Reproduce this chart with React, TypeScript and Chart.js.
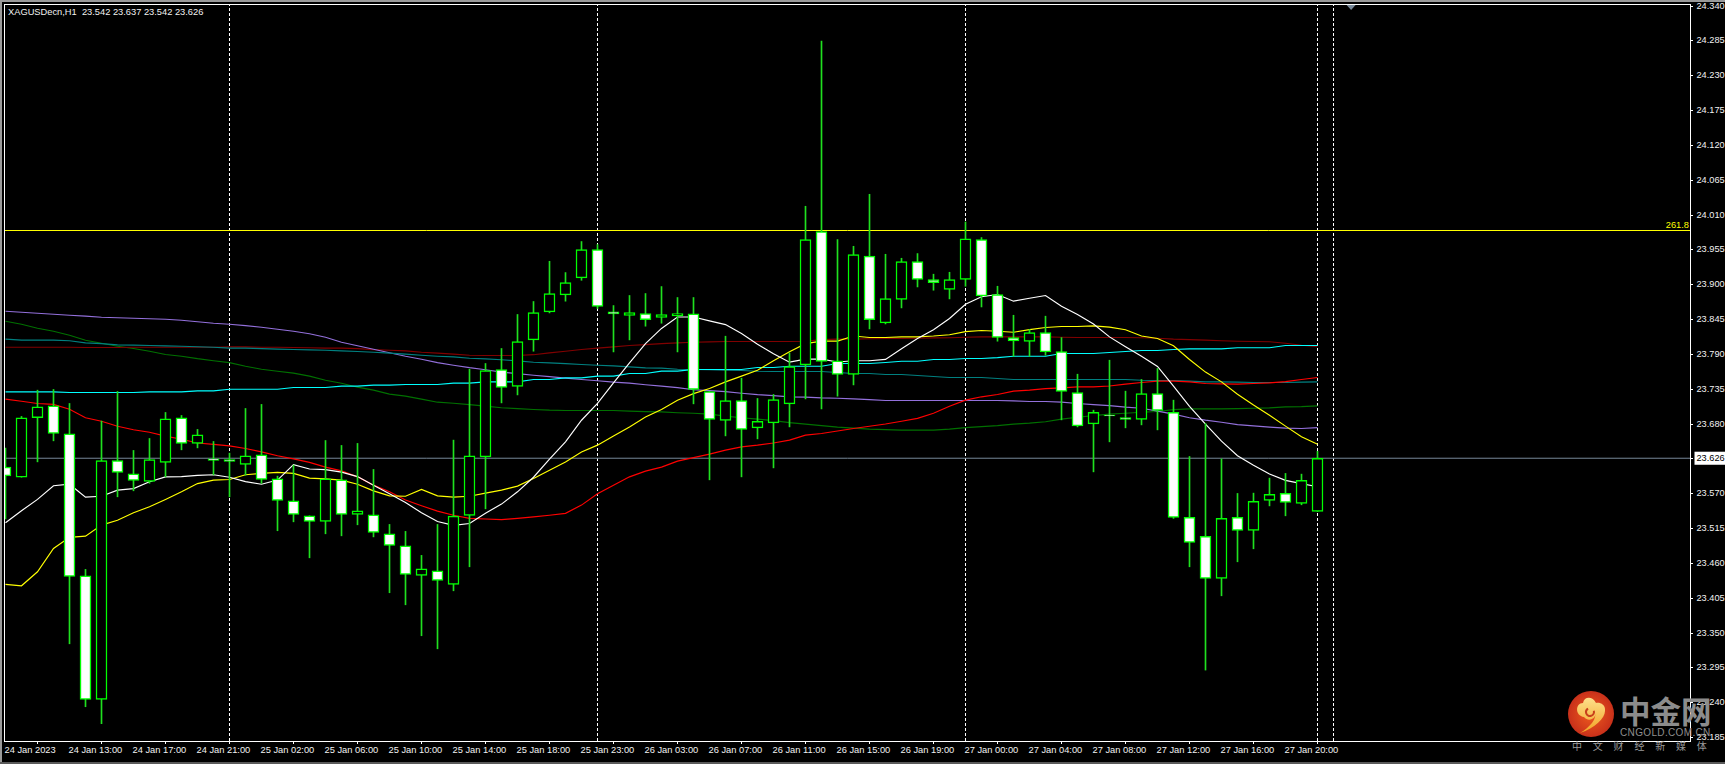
import React, { useEffect, useRef } from "react";
import { Chart, registerables } from "chart.js";

Chart.register(...registerables);

const titleText = "XAGUSDecn,H1  23.542 23.637 23.542 23.626";

const opens = [
  23.612, 23.596, 23.69, 23.7087, 23.6645, 23.4405, 23.2453, 23.6225, 23.6014, 23.5895,
  23.6194, 23.6898, 23.6494, 23.625, 23.624, 23.6164, 23.6314, 23.5935, 23.5588, 23.5351,
  23.5262, 23.592, 23.5373, 23.5367, 23.5067, 23.4877, 23.441, 23.4483, 23.4268, 23.5357,
  23.6282, 23.7661, 23.7393, 23.8129, 23.857, 23.8839, 23.9107, 23.9555, 23.857, 23.8514,
  23.8545, 23.8482, 23.8507, 23.8539, 23.7314, 23.6857, 23.7172, 23.674, 23.6819, 23.7119,
  23.7734, 23.984, 23.7797, 23.7582, 23.9454, 23.8397, 23.8766, 23.9366, 23.9082, 23.8924,
  23.9082, 23.9713, 23.8845, 23.8166, 23.8103, 23.8245, 23.7945, 23.7298, 23.6803, 23.694,
  23.6904, 23.6872, 23.7282, 23.6983, 23.5326, 23.5026, 23.4363, 23.5326, 23.512, 23.5594,
  23.5704, 23.5546, 23.542,
];
const highs = [
  23.642, 23.692, 23.7335, 23.7346, 23.7125, 23.4505, 23.6845, 23.7314, 23.6383, 23.6572,
  23.6983, 23.6935, 23.6715, 23.6525, 23.634, 23.7046, 23.711, 23.5977, 23.6151, 23.5351,
  23.654, 23.6462, 23.6494, 23.6083, 23.5215, 23.5105, 23.4726, 23.5215, 23.6546, 23.7666,
  23.7756, 23.7993, 23.853, 23.8735, 23.937, 23.9192, 23.9682, 23.9634, 23.8671, 23.883,
  23.8861, 23.8971, 23.8798, 23.8798, 23.7314, 23.8187, 23.7524, 23.7204, 23.7267, 23.7923,
  24.0239, 24.2848, 23.9713, 23.9607, 24.0428, 23.9481, 23.9418, 23.9492, 23.9166, 23.9197,
  23.9991, 23.9745, 23.8976, 23.8518, 23.8293, 23.8503, 23.8166, 23.7587, 23.7019, 23.7808,
  23.7319, 23.7504, 23.7677, 23.7177, 23.6288, 23.6809, 23.625, 23.5704, 23.5709, 23.5946,
  23.602, 23.6009, 23.637,
];
const lows = [
  23.53, 23.596, 23.6203, 23.6535, 23.333, 23.2336, 23.2068, 23.5651, 23.5746, 23.5864,
  23.5966, 23.6393, 23.6424, 23.5998, 23.5651, 23.5993, 23.5864, 23.5115, 23.5256, 23.4688,
  23.5067, 23.5035, 23.5209, 23.5018, 23.4136, 23.3946, 23.3457, 23.3251, 23.4167, 23.4546,
  23.5461, 23.7134, 23.726, 23.795, 23.8555, 23.874, 23.907, 23.8624, 23.7939, 23.8129,
  23.8345, 23.8392, 23.7939, 23.7119, 23.5919, 23.6613, 23.5966, 23.6566, 23.6108, 23.6755,
  23.7197, 23.704, 23.724, 23.7418, 23.8302, 23.8381, 23.8634, 23.8965, 23.8913, 23.8776,
  23.8976, 23.8649, 23.8108, 23.7871, 23.7871, 23.7887, 23.6866, 23.6755, 23.6045, 23.6519,
  23.674, 23.6787, 23.6708, 23.531, 23.4546, 23.2915, 23.4088, 23.4625, 23.483, 23.5508,
  23.5351, 23.5525, 23.542,
];
const closes = [
  23.598, 23.69, 23.707, 23.665, 23.4395, 23.2453, 23.6225, 23.6036, 23.591, 23.624,
  23.6882, 23.6494, 23.663, 23.6225, 23.6209, 23.63, 23.5925, 23.5594, 23.5373, 23.5262,
  23.5935, 23.5373, 23.543, 23.5089, 23.4883, 23.4426, 23.4515, 23.4331, 23.5346, 23.6298,
  23.7646, 23.7377, 23.8103, 23.8561, 23.8861, 23.9034, 23.9555, 23.8656, 23.8539, 23.8561,
  23.845, 23.853, 23.8545, 23.7346, 23.6872, 23.7172, 23.6715, 23.6841, 23.7188, 23.7709,
  23.9713, 23.7788, 23.7582, 23.9476, 23.845, 23.8782, 23.9366, 23.9082, 23.9034, 23.9082,
  23.9723, 23.8823, 23.8166, 23.8113, 23.8245, 23.7939, 23.7314, 23.6771, 23.6983, 23.693,
  23.6872, 23.7282, 23.7014, 23.5326, 23.4931, 23.4363, 23.531, 23.512, 23.5578, 23.5689,
  23.5562, 23.591, 23.626,
];

const maWhite = [
  23.524, 23.543, 23.561, 23.5825, 23.585, 23.5646, 23.566, 23.5757, 23.578, 23.589,
  23.5966, 23.597, 23.599, 23.6, 23.596, 23.589, 23.585, 23.5915, 23.616, 23.609,
  23.608, 23.604, 23.597, 23.5835, 23.57, 23.556, 23.54, 23.526, 23.52, 23.523,
  23.539, 23.5536, 23.573, 23.596, 23.6246, 23.652, 23.686, 23.7125, 23.745, 23.7766,
  23.807, 23.831, 23.849, 23.849, 23.843, 23.837, 23.823, 23.806, 23.791, 23.7777,
  23.7824, 23.7824, 23.778, 23.78, 23.78, 23.782, 23.799, 23.815, 23.829, 23.8466,
  23.869, 23.881, 23.8845, 23.874, 23.8787, 23.883, 23.866, 23.853, 23.838, 23.8176,
  23.802, 23.787, 23.771, 23.74, 23.708, 23.68, 23.653, 23.63, 23.615, 23.601,
  23.591, 23.586, 23.581,
];
const maYellow = [
  23.4268, 23.4246, 23.4467, 23.4836, 23.501, 23.503, 23.5204, 23.528, 23.54, 23.5493,
  23.561, 23.573, 23.586, 23.5915, 23.5925, 23.6, 23.602, 23.6036, 23.602, 23.5946,
  23.5935, 23.5915, 23.585, 23.5745, 23.5666, 23.566, 23.5767, 23.5666, 23.5646, 23.566,
  23.571, 23.5757, 23.582, 23.594, 23.607, 23.62, 23.636, 23.6467, 23.661, 23.6755,
  23.691, 23.703, 23.7177, 23.728, 23.736, 23.7466, 23.7556, 23.765, 23.78, 23.794,
  23.807, 23.811, 23.811, 23.819, 23.8166, 23.8166, 23.8176, 23.8176, 23.819, 23.821,
  23.826, 23.8277, 23.8266, 23.825, 23.829, 23.8324, 23.834, 23.834, 23.835, 23.833,
  23.829, 23.819, 23.815, 23.8037, 23.782, 23.762, 23.7466, 23.727, 23.71, 23.694,
  23.6767, 23.66, 23.648,
];
const maRed = [
  23.7193, 23.716, 23.7125, 23.711, 23.7035, 23.69, 23.6845, 23.6766, 23.671, 23.667,
  23.661, 23.656, 23.65, 23.648, 23.6455, 23.6414, 23.636, 23.63, 23.625, 23.6194,
  23.612, 23.606, 23.5966, 23.5835, 23.573, 23.56, 23.551, 23.5425, 23.536, 23.531,
  23.53, 23.529, 23.531, 23.5335, 23.536, 23.539, 23.552, 23.57, 23.5835, 23.5966,
  23.6056, 23.612, 23.6214, 23.627, 23.6325, 23.6388, 23.644, 23.6467, 23.65, 23.6546,
  23.6624, 23.665, 23.669, 23.673, 23.6766, 23.68, 23.6845, 23.689, 23.697, 23.708,
  23.7177, 23.723, 23.7267, 23.732, 23.7335, 23.736, 23.737, 23.7387, 23.7387, 23.74,
  23.743, 23.7456, 23.7477, 23.7477, 23.7466, 23.744, 23.7434, 23.743, 23.744, 23.745,
  23.747, 23.7504, 23.7535,
];
const maDarkRed = [
  23.8013, 23.8013, 23.8013, 23.8013, 23.8013, 23.8009, 23.8009, 23.8009, 23.8013, 23.8013,
  23.8013, 23.8013, 23.8013, 23.8013, 23.8018, 23.8018, 23.8013, 23.8013, 23.8009, 23.8005,
  23.7998, 23.7998, 23.799, 23.7974, 23.7966, 23.7955, 23.7934, 23.7919, 23.7903, 23.7887,
  23.7882, 23.7882, 23.7882, 23.7895, 23.7923, 23.795, 23.7977, 23.7998, 23.8018, 23.804,
  23.8053, 23.8069, 23.8081, 23.8092, 23.8097, 23.8103, 23.8103, 23.8103, 23.8103, 23.8103,
  23.8108, 23.8132, 23.814, 23.814, 23.8147, 23.815, 23.815, 23.8155, 23.816, 23.8163,
  23.8171, 23.8176, 23.8176, 23.8176, 23.8176, 23.8176, 23.8171, 23.8166, 23.8166, 23.8166,
  23.8166, 23.8163, 23.8155, 23.814, 23.8132, 23.8124, 23.8116, 23.8108, 23.8103, 23.81,
  23.8076, 23.8045, 23.8021,
];
const maCyan = [
  23.7308, 23.7308, 23.7308, 23.7308, 23.7298, 23.7298, 23.7298, 23.7298, 23.7298, 23.7308,
  23.7308, 23.7308, 23.7323, 23.7323, 23.735, 23.735, 23.735, 23.735, 23.7377, 23.7377,
  23.7377, 23.7398, 23.7398, 23.7414, 23.7414, 23.7425, 23.7425, 23.7425, 23.7445, 23.7445,
  23.7466, 23.7466, 23.7466, 23.7504, 23.7504, 23.7529, 23.7529, 23.7556, 23.7556, 23.7598,
  23.7598, 23.7635, 23.7635, 23.7661, 23.7661, 23.7661, 23.7661, 23.7693, 23.7693, 23.7713,
  23.7713, 23.7713, 23.7756, 23.7756, 23.7756, 23.7772, 23.7792, 23.7792, 23.7819, 23.7819,
  23.7835, 23.7835, 23.7848, 23.7871, 23.7871, 23.7871, 23.7914, 23.7914, 23.7914, 23.7929,
  23.7945, 23.7961, 23.7961, 23.7977, 23.7986, 23.7986, 23.7986, 23.8005, 23.8005, 23.8005,
  23.804, 23.804, 23.804,
];
const maTeal = [
  23.814, 23.8124, 23.8124, 23.8124, 23.8116, 23.8081, 23.8069, 23.805, 23.8045, 23.804,
  23.8034, 23.8029, 23.8021, 23.8013, 23.7998, 23.7998, 23.799, 23.7982, 23.7977, 23.7971,
  23.7966, 23.7955, 23.7945, 23.7934, 23.7919, 23.7903, 23.7887, 23.7871, 23.786, 23.7839,
  23.7829, 23.7816, 23.7797, 23.7776, 23.7765, 23.7753, 23.774, 23.7729, 23.7718, 23.7702,
  23.7686, 23.7682, 23.7666, 23.7661, 23.7658, 23.765, 23.7645, 23.7634, 23.7629, 23.7629,
  23.7629, 23.7629, 23.7614, 23.7598, 23.7598, 23.7582, 23.7582, 23.7566, 23.755, 23.7535,
  23.7535, 23.7535, 23.7519, 23.7503, 23.7503, 23.7503, 23.7503, 23.7503, 23.7503, 23.7503,
  23.7503, 23.7492, 23.7488, 23.7488, 23.7477, 23.7466, 23.7466, 23.7461, 23.7456, 23.7456,
  23.7456, 23.7461, 23.7466,
];
const maPurple = [
  23.8581, 23.8566, 23.855, 23.8534, 23.8518, 23.8503, 23.8487, 23.8479, 23.8471, 23.8463,
  23.8455, 23.8439, 23.8416, 23.8392, 23.8376, 23.8353, 23.8329, 23.8297, 23.8266, 23.8226,
  23.8171, 23.8092, 23.8037, 23.7982, 23.7926, 23.7871, 23.7824, 23.7769, 23.7729, 23.769,
  23.7658, 23.7619, 23.7595, 23.7571, 23.7548, 23.7524, 23.7503, 23.7484, 23.7461, 23.7445,
  23.7421, 23.7398, 23.7374, 23.7342, 23.7327, 23.7311, 23.7287, 23.7264, 23.7248, 23.7229,
  23.7224, 23.7213, 23.7208, 23.7197, 23.7185, 23.7172, 23.7172, 23.7172, 23.7172, 23.7172,
  23.7172, 23.7172, 23.7172, 23.7166, 23.7156, 23.7156, 23.7145, 23.7125, 23.7106, 23.709,
  23.7066, 23.705, 23.7003, 23.6956, 23.69, 23.6861, 23.6829, 23.679, 23.6771, 23.6751,
  23.6735, 23.673, 23.6743,
];
const maGreen = [
  23.8424, 23.8376, 23.8313, 23.8266, 23.8203, 23.8124, 23.8076, 23.8029, 23.7993, 23.795,
  23.7898, 23.7871, 23.7832, 23.78, 23.7769, 23.7713, 23.7666, 23.7634, 23.7603, 23.7556,
  23.7492, 23.7445, 23.7382, 23.7335, 23.7272, 23.724, 23.7193, 23.7145, 23.7129, 23.7106,
  23.7082, 23.7058, 23.7043, 23.703, 23.7019, 23.7014, 23.7014, 23.7014, 23.7014, 23.7003,
  23.6995, 23.6992, 23.6979, 23.6971, 23.6956, 23.6924, 23.69, 23.6877, 23.6853, 23.6822,
  23.6798, 23.6774, 23.6751, 23.6735, 23.6719, 23.6711, 23.6703, 23.6703, 23.6703, 23.6719,
  23.6743, 23.6759, 23.6774, 23.6798, 23.6814, 23.6837, 23.6877, 23.6908, 23.6932, 23.6956,
  23.6971, 23.6987, 23.6998, 23.7027, 23.7039, 23.7039, 23.7039, 23.7043, 23.705, 23.7055,
  23.7071, 23.7074, 23.7087,
];

const currentPrice = 23.626;
const fibLevel = 23.9856;
const fibLabel = "261.8";
const separators = [14, 37, 60, 82, 83];
const shiftMarker = 84.1;

const priceTicks = [
  24.34, 24.285, 24.23, 24.175, 24.12, 24.065, 24.01, 23.955, 23.9, 23.845, 23.79,
  23.735, 23.68, 23.57, 23.515, 23.46, 23.405, 23.35, 23.295, 23.24, 23.185,
];
const timeTickIndex = [0, 4, 8, 12, 16, 20, 24, 28, 32, 36, 40, 44, 48, 52, 56, 60, 64, 68, 72, 76, 80];
const timeTickLabels = [
  "24 Jan 2023", "24 Jan 13:00", "24 Jan 17:00", "24 Jan 21:00", "25 Jan 02:00", "25 Jan 06:00",
  "25 Jan 10:00", "25 Jan 14:00", "25 Jan 18:00", "25 Jan 23:00", "26 Jan 03:00", "26 Jan 07:00",
  "26 Jan 11:00", "26 Jan 15:00", "26 Jan 19:00", "27 Jan 00:00", "27 Jan 04:00", "27 Jan 08:00",
  "27 Jan 12:00", "27 Jan 16:00", "27 Jan 20:00",
];

const FONT = '"Liberation Sans", Arial, sans-serif';
const Y_MAX = 24.3417;
const Y_MIN = 23.1795;
const X_MIN = -0.03125;
const X_MAX = 105.28125;

const toPoints = (vals: number[]) => vals.map((y, x) => ({ x, y }));

const line = (values: number[], color: string) => ({
  type: "line" as const,
  data: toPoints(values),
  borderColor: color,
  borderWidth: 1.15,
  pointRadius: 0,
  tension: 0,
  fill: false,
});

const clearPadding = (s: any) => {
  s.paddingTop = 0;
  s.paddingBottom = 0;
  s.paddingLeft = 0;
  s.paddingRight = 0;
};

const chrome = {
  id: "chrome",
  beforeDraw(chart: any) {
    const { ctx, width, height } = chart;
    ctx.save();
    ctx.fillStyle = "#000";
    ctx.fillRect(0, 0, width, height);
    ctx.fillStyle = "#9a9a9a";
    ctx.fillRect(0, 0, width, 2);
    ctx.fillRect(0, 0, 2, height);
    ctx.fillStyle = "#5a5a5a";
    ctx.fillRect(0, height - 2, width, 2);
    ctx.restore();
  },
  afterDatasetsDraw(chart: any) {
    const { ctx, chartArea: a, scales } = chart;
    ctx.save();
    ctx.strokeStyle = "#fff";
    ctx.lineWidth = 1;
    ctx.strokeRect(a.left - 0.5, a.top - 0.5, a.right - a.left + 1, a.bottom - a.top + 1);
    ctx.fillStyle = "#ffff00";
    ctx.font = `9.3px ${FONT}`;
    ctx.textAlign = "right";
    ctx.textBaseline = "alphabetic";
    ctx.fillText(fibLabel, a.right - 1, scales.y.getPixelForValue(fibLevel) - 3);
    const tx = scales.x.getPixelForValue(shiftMarker);
    ctx.fillStyle = "#778899";
    ctx.beginPath();
    ctx.moveTo(tx - 4.5, a.top);
    ctx.lineTo(tx + 4.5, a.top);
    ctx.lineTo(tx, a.top + 5);
    ctx.closePath();
    ctx.fill();
    ctx.fillStyle = "#f2f2f2";
    ctx.font = `9.3px ${FONT}`;
    ctx.textAlign = "left";
    ctx.textBaseline = "middle";
    ctx.fillText(titleText, a.left + 3, 12.5);
    ctx.restore();
  },
  afterDraw(chart: any) {
    const { ctx } = chart;
    const cx = 1591;
    const cy = 714;
    ctx.save();
    const g = ctx.createRadialGradient(cx, cy, 4, cx, cy, 23);
    g.addColorStop(0, "#e8541e");
    g.addColorStop(1, "#c8301a");
    ctx.fillStyle = g;
    ctx.beginPath();
    ctx.arc(cx, cy, 23, 0, Math.PI * 2);
    ctx.fill();
    const y = ctx.createLinearGradient(0, cy - 16, 0, cy + 20);
    y.addColorStop(0, "#fde08a");
    y.addColorStop(1, "#f2a020");
    ctx.fillStyle = y;
    ctx.beginPath();
    ctx.moveTo(cx - 11, cy + 19);
    ctx.bezierCurveTo(cx + 4, cy + 14, cx + 14, cy + 4, cx + 14, cy - 3);
    ctx.bezierCurveTo(cx + 15, cy - 10, cx + 8, cy - 12, cx + 5, cy - 11);
    ctx.bezierCurveTo(cx + 2, cy - 18, cx - 7, cy - 18, cx - 8, cy - 11);
    ctx.bezierCurveTo(cx - 16, cy - 11, cx - 16, cy + 2, cx - 7, cy + 3);
    ctx.bezierCurveTo(cx - 2, cy + 9, cx + 6, cy + 4, cx + 4, cy - 2);
    ctx.bezierCurveTo(cx + 6, cy + 5, cx - 1, cy + 13, cx - 11, cy + 19);
    ctx.fill();
    ctx.strokeStyle = "#c8401c";
    ctx.lineWidth = 2;
    ctx.beginPath();
    ctx.arc(cx - 1, cy - 2, 4, -0.3, 4.2);
    ctx.stroke();

    ctx.fillStyle = "#8c8c8c";
    ctx.textAlign = "left";
    ctx.textBaseline = "alphabetic";
    ctx.font = `bold 30.5px "Noto Sans CJK SC", sans-serif`;
    ctx.fillText("中金网", 1620, 723);
    ctx.font = `10px ${FONT}`;
    (ctx as any).letterSpacing = "0.35px";
    ctx.fillStyle = "#8f8f8f";
    ctx.fillText("CNGOLD.COM.CN", 1620, 736);
    ctx.font = `10px "Noto Sans CJK SC", sans-serif`;
    (ctx as any).letterSpacing = "10.8px";
    ctx.fillStyle = "#9a9a9a";
    ctx.fillText("中文财经新媒体", 1572, 750);
    ctx.restore();
  },
};

export default function App() {
  const ref = useRef<HTMLCanvasElement | null>(null);

  useEffect(() => {
    if (!ref.current) return;
    ref.current.getContext("2d", { alpha: false });
    const bodies = {
      type: "bar" as const,
      data: opens.map((o, x) => ({ x, y: [o, closes[x]] })),
      backgroundColor: opens.map((o, i) => (closes[i] >= o ? "#000000" : "#ffffff")),
      borderColor: "#00ff00",
      borderWidth: 1.5,
      borderSkipped: false,
      barThickness: 11,
      grouped: false,
    };
    const wicks = {
      type: "bar" as const,
      data: lows.map((l, x) => ({ x, y: [l, highs[x]] })),
      backgroundColor: "#1fe01f",
      borderWidth: 0,
      barThickness: 1,
      grouped: false,
    };
    const level = (value: number, color: string) => ({
      type: "line" as const,
      data: [
        { x: X_MIN, y: value },
        { x: X_MAX, y: value },
      ],
      borderColor: color,
      borderWidth: 1,
      pointRadius: 0,
    });
    const verticals = separators.map((x) => ({
      type: "line" as const,
      data: [
        { x, y: Y_MIN },
        { x, y: Y_MAX },
      ],
      borderColor: "#ffffff",
      borderWidth: 1,
      borderDash: [3, 2],
      pointRadius: 0,
    }));

    const chart = new Chart(ref.current, {
      type: "bar",
      data: {
        datasets: [
          bodies,
          wicks,
          line(maWhite, "#ffffff"),
          line(maYellow, "#ffff00"),
          line(maRed, "#ff0000"),
          line(maCyan, "#00ffff"),
          line(maTeal, "#008080"),
          line(maPurple, "#9370db"),
          line(maDarkRed, "#800000"),
          line(maGreen, "#007000"),
          level(fibLevel, "#ffff00"),
          level(currentPrice, "#778899"),
          ...verticals,
        ] as any,
      },
      options: {
        responsive: false,
        animation: false,
        devicePixelRatio: 1,
        layout: { autoPadding: false, padding: { left: 5, top: 5, right: 0, bottom: 0 } },
        plugins: { legend: { display: false }, tooltip: { enabled: false } },
        events: [],
        scales: {
          x: {
            type: "linear",
            offset: false,
            min: X_MIN,
            max: X_MAX,
            afterBuildTicks: (s: any) => {
              s.ticks = timeTickIndex.map((value) => ({ value }));
            },
            afterFit: (s: any) => {
              s.height = 23;
              clearPadding(s);
            },
            border: { display: false },
            grid: { display: true, drawOnChartArea: false, drawTicks: true, tickLength: 3, tickColor: "#ffffff" },
            ticks: {
              autoSkip: false,
              maxRotation: 0,
              minRotation: 0,
              align: "start",
              padding: 1,
              labelOffset: -1,
              color: "#f2f2f2",
              font: { family: FONT, size: 9.3 },
              callback: (_v: any, i: number) => timeTickLabels[i],
            },
          },
          y: {
            type: "linear",
            position: "right",
            min: Y_MIN,
            max: Y_MAX,
            afterBuildTicks: (s: any) => {
              s.ticks = [...priceTicks, currentPrice].map((value) => ({ value }));
            },
            afterFit: (s: any) => {
              s.width = 35;
              clearPadding(s);
            },
            border: { display: false },
            grid: { display: true, drawOnChartArea: false, drawTicks: true, tickLength: 3, tickColor: "#ffffff" },
            ticks: {
              autoSkip: false,
              padding: 3.5,
              color: (c: any) => (c.tick && c.tick.value === currentPrice ? "#000000" : "#f2f2f2"),
              font: { family: FONT, size: 9.2 },
              showLabelBackdrop: (c: any) => !!c.tick && c.tick.value === currentPrice,
              backdropColor: "#ffffff",
              backdropPadding: { x: 2, y: 1 },
              callback: (v: any) => Number(v).toFixed(3),
            },
          },
        },
      } as any,
      plugins: [chrome],
    });
    return () => chart.destroy();
  }, []);

  return (
    <canvas
      ref={ref}
      width={1725}
      height={764}
      style={{ position: "fixed", left: 0, top: 0, width: 1725, height: 764, display: "block" }}
    />
  );
}
